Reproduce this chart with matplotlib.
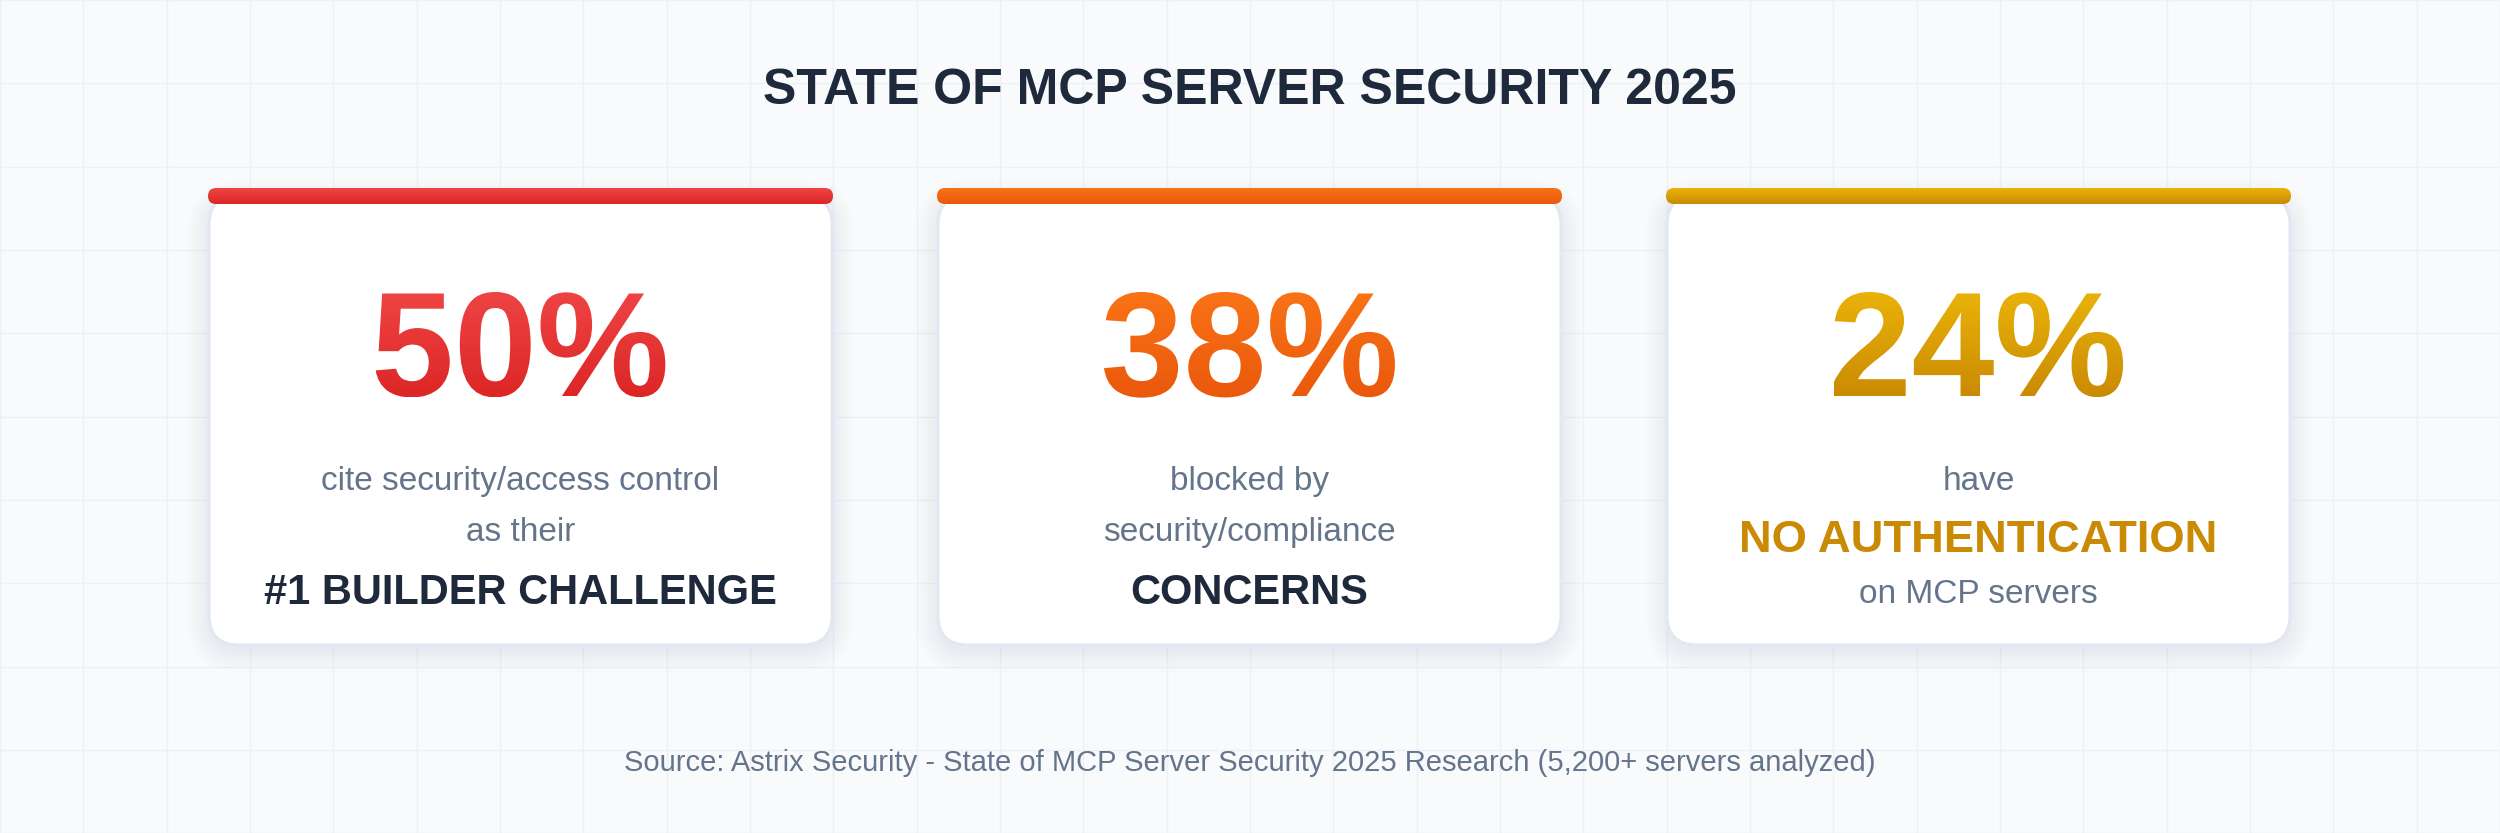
import numpy as np
import matplotlib
matplotlib.use("Agg")
import matplotlib.pyplot as plt
from matplotlib.patches import FancyBboxPatch, PathPatch
from matplotlib.textpath import TextPath
from matplotlib.font_manager import FontProperties
from matplotlib.transforms import Affine2D
from matplotlib.colors import to_rgb

# ---- data ----
title = "STATE OF MCP SERVER SECURITY 2025"
percents = [50, 38, 24]
top_lines = [["cite security/access control", "as their"],
             ["blocked by", "security/compliance"],
             ["have"]]
key_lines = ["#1 BUILDER CHALLENGE", "CONCERNS", "NO AUTHENTICATION"]
bottom_lines = [[], [], ["on MCP servers"]]
source = "Source: Astrix Security - State of MCP Server Security 2025 Research (5,200+ servers analyzed)"

grad_top = ["#ef4444", "#f97316", "#eab308"]
grad_bot = ["#dc2626", "#ea580c", "#ca8a04"]

# ---- canvas in pixel units ----
W, H = 2500, 833
fig = plt.figure(figsize=(25, 8.33), dpi=100)
fig.patch.set_facecolor("#f8fafc")
ax = fig.add_axes([0, 0, 1, 1])
ax.set_facecolor("#f8fafc")
ax.axis("off")

# faint background grid
step = W / 30
for gx in np.arange(0, W + 1, step):
    ax.axvline(gx, color="#edf1f6", lw=1.0, zorder=0)
for gy in np.arange(0, H + 1, step):
    ax.axhline(gy, color="#edf1f6", lw=1.0, zorder=0)

FONT = "Liberation Sans"
ax.text(W / 2, 104, title, ha="center", va="baseline", fontsize=36,
        fontweight="bold", color="#1e293b", family=FONT)


def gradient_fill(x0, x1, ytop, ybot, c_top, c_bot, clip, z):
    t = np.linspace(0, 1, 256)[:, None, None]
    a, b = np.array(to_rgb(c_top)), np.array(to_rgb(c_bot))
    img = (1 - t) * a + t * b
    im = ax.imshow(img, extent=(x0, x1, ybot, ytop), origin="upper",
                   aspect="auto", zorder=z, interpolation="bilinear")
    im.set_clip_path(clip)


card_w = 623
card_x = [209, 938, 1667]
card_top, card_bot = 195, 645
bar_top, bar_bot = 188, 204
big_fp = FontProperties(family=FONT, weight="bold")

for i, pct in enumerate(percents):
    x0 = card_x[i]
    cx = x0 + card_w / 2

    # soft shadow
    for k in range(8):
        g = 2 + k * 3
        sh = FancyBboxPatch((x0 - g + 2, card_top - g + 8), card_w + 2 * g - 4,
                            card_bot - card_top + 2 * g - 4,
                            boxstyle="round,pad=0,rounding_size=%d" % (30 + g),
                            fc="#94a3b8", ec="none", alpha=0.015, zorder=1)
        ax.add_patch(sh)

    card = FancyBboxPatch((x0, card_top), card_w, card_bot - card_top,
                          boxstyle="round,pad=0,rounding_size=30",
                          fc="white", ec="#e2e8f0", lw=2.2, zorder=2)
    ax.add_patch(card)

    # coloured top bar
    bar = FancyBboxPatch((x0 - 1, bar_top), card_w + 2, bar_bot - bar_top,
                         boxstyle="round,pad=0,rounding_size=8",
                         fc="none", ec="none", zorder=3)
    ax.add_patch(bar)
    gradient_fill(x0 - 1, x0 + card_w + 1, bar_top, bar_bot,
                  grad_top[i], grad_bot[i], bar, 3)

    # big gradient number
    tp = TextPath((0, 0), f"{pct}%", size=149, prop=big_fp)
    ext = tp.get_extents()
    tr = Affine2D().translate(-(ext.x0 + ext.x1) / 2, 0).scale(1, -1).translate(cx, 396)
    num_path = tr.transform_path(tp)
    num_patch = PathPatch(num_path, fc="none", ec="none", zorder=4)
    ax.add_patch(num_patch)
    ne = num_path.get_extents()
    gradient_fill(ne.x0, ne.x1, ne.y0, ne.y1, grad_top[i], grad_bot[i], num_patch, 4)

    # description lines
    y = 490
    for line in top_lines[i]:
        ax.text(cx, y, line, ha="center", va="baseline", fontsize=24,
                color="#64748b", family=FONT, zorder=5)
        y += 51
    if i == 2:
        ax.text(cx, 552, key_lines[i], ha="center", va="baseline", fontsize=32.7,
                fontweight="bold", color="#ca8a04", family=FONT, zorder=5)
        ax.text(cx, 603, bottom_lines[i][0], ha="center", va="baseline",
                fontsize=24, color="#64748b", family=FONT, zorder=5)
    else:
        ax.text(cx, 604, key_lines[i], ha="center", va="baseline", fontsize=30,
                fontweight="bold", color="#1e293b", family=FONT, zorder=5)

ax.text(W / 2, 771, source, ha="center", va="baseline", fontsize=21,
        color="#64748b", family=FONT)

ax.set_xlim(0, W)
ax.set_ylim(H, 0)
ax.set_aspect("auto")

fig.savefig("out.png", dpi=100, facecolor=fig.get_facecolor())
